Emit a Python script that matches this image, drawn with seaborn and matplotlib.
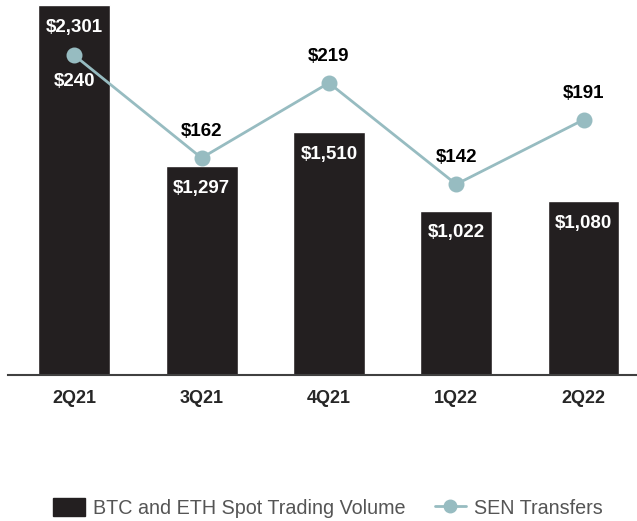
import matplotlib
matplotlib.use("Agg")
import matplotlib.pyplot as plt
import seaborn as sns
from matplotlib.lines import Line2D
from matplotlib.patches import Patch

# Daten
quarters = ["2Q21", "3Q21", "4Q21", "1Q22", "2Q22"]
volume = [2301, 1297, 1510, 1022, 1080]
sen = [240, 162, 219, 142, 191]
sen_below = [True, False, False, False, False]

bar_color = "#231f20"
line_color = "#97bcc1"

sns.set_style("white")
plt.rcParams["font.family"] = ["Liberation Sans", "DejaVu Sans"]

fig = plt.figure(figsize=(6.37, 5.21), dpi=100)
ax = fig.add_axes([0.0126, 0.28, 0.9874, 0.72])

sns.barplot(x=quarters, y=volume, color=bar_color, width=0.565,
            saturation=1, ax=ax)
ax.set_ylim(0, 2332)

ax2 = ax.twinx()
sns.pointplot(x=quarters, y=sen, color=line_color, markers="o",
              linestyles="-", markersize=10, linewidth=2, ax=ax2)
ax2.set_ylim(-3, 282)
ax.set_xlim(-0.52, 4.42)
ax2.set_xlim(-0.52, 4.42)

# Beschriftungen der Balken
for i, v in enumerate(volume):
    ax.annotate(f"${v:,}", (i, v), xytext=(0, -16), textcoords="offset points",
                ha="center", va="center", color="white", fontsize=13.5,
                fontweight="bold")

# Beschriftungen der Linie
for i, v in enumerate(sen):
    off = -19 if sen_below[i] else 19
    col = "white" if sen_below[i] else "black"
    ax2.annotate(f"${v}", (i, v), xytext=(0, off), textcoords="offset points",
                 ha="center", va="center", color=col, fontsize=13.5,
                 fontweight="bold")

for a in (ax, ax2):
    for s in ["top", "right", "left"]:
        a.spines[s].set_visible(False)
    a.set_yticks([])
    a.set_ylabel("")
ax2.spines["bottom"].set_visible(False)
ax.spines["bottom"].set_color("#404040")
ax.spines["bottom"].set_linewidth(1.5)

ax.set_xticks(range(len(quarters)))
ax.set_xticklabels(quarters, fontsize=13, fontweight="bold")
ax.tick_params(axis="x", length=0, pad=11)
ax2.tick_params(axis="x", length=0, labelbottom=False)

handles = [
    Patch(facecolor=bar_color, edgecolor=bar_color),
    Line2D([0], [0], color=line_color, lw=2, marker="o", markersize=9),
]
labels = ["BTC and ETH Spot Trading Volume", "SEN Transfers"]
fig.legend(handles, labels, loc="center", bbox_to_anchor=(0.515, 0.025), ncol=2,
           frameon=False, fontsize=14.2, labelcolor="#555555",
           handlelength=1.6, handleheight=1.0, columnspacing=1.5,
           handletextpad=0.4)

fig.savefig("out.png", dpi=100)
